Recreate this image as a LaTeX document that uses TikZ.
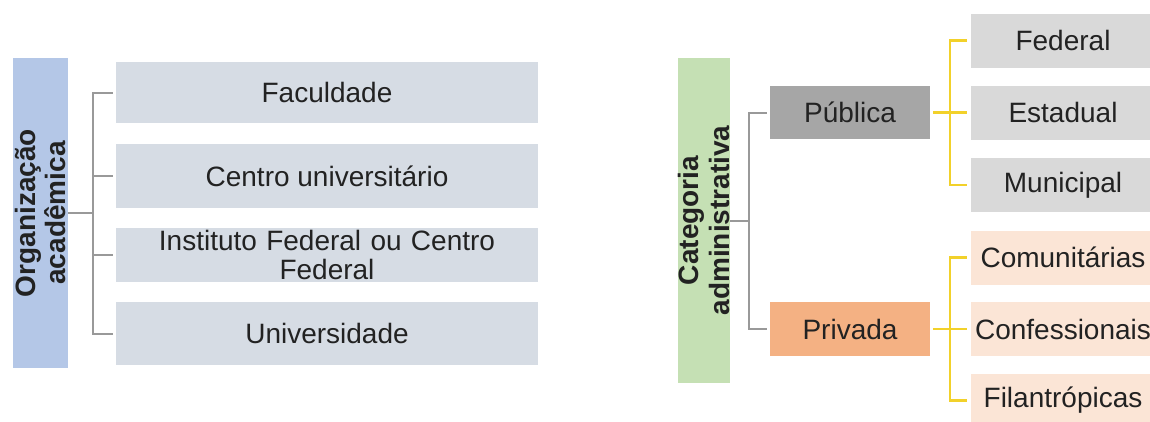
\documentclass[tikz,border=0pt]{standalone}
\usepackage{fontspec}
\setmainfont{Liberation Sans}
\definecolor{txt}{HTML}{222222}
\definecolor{orgblue}{HTML}{B4C7E7}
\definecolor{leftbox}{HTML}{D6DCE4}
\definecolor{catgreen}{HTML}{C5E0B4}
\definecolor{pubgrey}{HTML}{A6A6A6}
\definecolor{privorange}{HTML}{F4B183}
\definecolor{subgrey}{HTML}{D9D9D9}
\definecolor{subpeach}{HTML}{FBE5D6}
\definecolor{conngrey}{HTML}{999999}
\definecolor{connyellow}{HTML}{F2D12A}
\begin{document}
\begin{tikzpicture}[x=1pt,y=-1pt,
  every node/.style={inner sep=0pt, outer sep=0pt, text=txt, font=\fontsize{28}{29}\selectfont},
  titlebox/.style={rotate=90, font=\fontsize{28}{30.5}\selectfont\bfseries, align=center},
  leftitem/.style={fill=leftbox, minimum width=422pt, align=center},
  rightitem/.style={minimum width=184pt, minimum height=54pt, align=center},
  midbox/.style={minimum width=160pt, minimum height=53pt},
  greyconn/.style={draw=conngrey, line width=2pt},
  yelconn/.style={draw=connyellow, line width=2.4pt},
]
\useasboundingbox (0,0) rectangle (1150,421);
\clip (0,0) rectangle (1150,421);

% ---------- left diagram ----------
\node[titlebox, fill=orgblue, minimum width=310pt, minimum height=55pt] (org) at (40.5,213) {Organização\\acadêmica};
\node[leftitem, minimum height=61pt] (fac) at (327,92.5) {Faculdade};
\node[leftitem, minimum height=64pt] (cen) at (327,176) {Centro universitário};
\node[leftitem, minimum height=54pt, text width=400pt] (ins) at (327,255) {Instituto Federal ou Centro\\Federal};
\node[leftitem, minimum height=63pt] (uni) at (327,333.5) {Universidade};

\coordinate (oj) at (92.6,213);
\draw[greyconn] (org.south) -- (oj);
\foreach \t in {fac,cen,ins,uni}
  \draw[greyconn, shorten >=3pt] (oj) |- (\t.west);

% ---------- right diagram ----------
\node[titlebox, fill=catgreen, minimum width=325pt, minimum height=50pt] (cat) at (704,220.5) {Categoria\\administrativa};
\node[midbox, fill=pubgrey] (pub) at (850,112.5) {Pública};
\node[midbox, fill=privorange, minimum height=54pt] (priv) at (850,329) {Privada};

\coordinate (cj) at (749,220.5);
\draw[greyconn] (cat.south) -- (cj);
\draw[greyconn, shorten >=3pt] (cj) |- (pub.west);
\draw[greyconn, shorten >=3pt] (cj) |- (priv.west);

\node[rightitem, fill=subgrey] (fed) at (1063,40.5) {Federal};
\node[rightitem, fill=subgrey] (est) at (1063,112.5) {Estadual};
\node[rightitem, fill=subgrey] (mun) at (1063,185) {Municipal};
\node[rightitem, fill=subpeach] (com) at (1063,257.5) {Comunitárias};
\node[rightitem, fill=subpeach] (con) at (1063,329) {Confessionais};
\node[rightitem, fill=subpeach] (fil) at (1063,400.5) {Filantrópicas};

\coordinate (yp) at (950,112.5);
\coordinate (yv) at (950,329);
\draw[yelconn, shorten <=3pt] (pub.east) -- (yp);
\draw[yelconn, shorten <=3pt] (priv.east) -- (yv);
\foreach \t in {fed,est,mun}
  \draw[yelconn, shorten >=4pt] (yp) |- (\t.west);
\foreach \t in {com,con,fil}
  \draw[yelconn, shorten >=4pt] (yv) |- (\t.west);
\end{tikzpicture}
\end{document}
